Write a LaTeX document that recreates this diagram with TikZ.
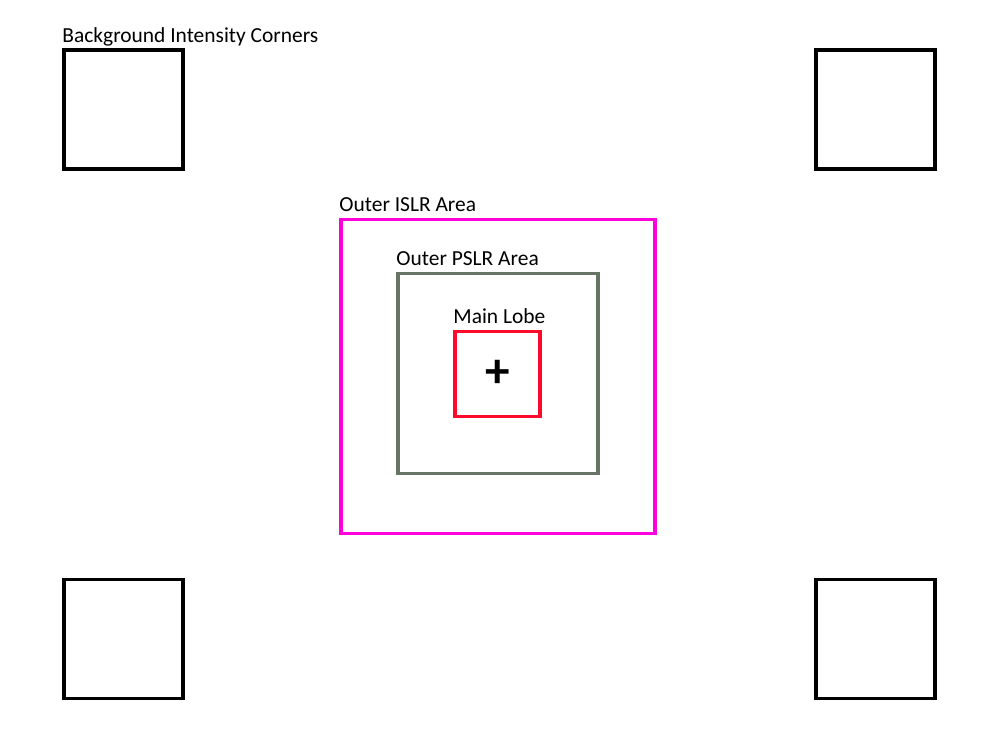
\documentclass[tikz,border=0pt]{standalone}
\usepackage{fontspec}
\setmainfont{Carlito}
\usepackage{xcolor}
\usepackage{tikz}
\usetikzlibrary{positioning}

\definecolor{islrmag}{HTML}{FF00DD}
\definecolor{pslrgray}{HTML}{687465}
\definecolor{lobered}{HTML}{FF0A2A}

\begin{document}
\begin{tikzpicture}[
  box/.style={draw, rectangle, line width=2.2pt, inner sep=0pt, fill=none},
  corner/.style={box, black, minimum size=2.38cm},
  lbl/.style={font=\fontsize{12.2}{14}\selectfont, anchor=base west, inner sep=0pt, yshift=0.12cm}
]
  \useasboundingbox (0,0) rectangle (20,15);

  % Background Intensity Corners
  \node[corner] (c_tl) at (2.47, 12.81) {};
  \node[corner] (c_tr) at (17.51, 12.81) {};
  \node[corner] (c_bl) at (2.47, 2.22) {};
  \node[corner] (c_br) at (17.51, 2.22) {};
  \node[lbl] (c_lbl) at (c_tl.north west) {Background Intensity Corners};

  % ISLR
  \node[box, islrmag, minimum size=6.28cm] (islr) at (9.96, 7.47) {};
  \node[lbl] (islr_lbl) at (islr.north west) {Outer ISLR Area};

  % PSLR
  \node[box, pslrgray, minimum size=4.0cm] (pslr) at (9.96, 7.53) {};
  \node[lbl] (pslr_lbl) at (pslr.north west) {Outer PSLR Area};

  % Main lobe
  \node[box, lobered, minimum size=1.7cm] (lobe) at (9.95, 7.52) {};
  \node[lbl] (lobe_lbl) at (lobe.north west) {Main Lobe};
  \node[font=\bfseries\fontsize{28}{30}\selectfont, inner sep=0pt] (peak) at (lobe.center) {+};

\end{tikzpicture}
\end{document}
